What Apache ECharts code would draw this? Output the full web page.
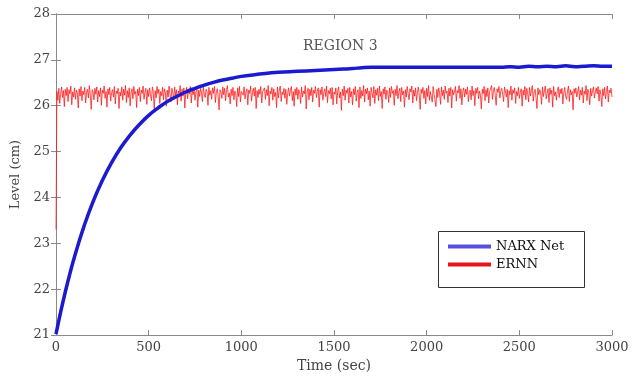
<!DOCTYPE html>
<html><head><meta charset="utf-8">
<script src="https://cdn.jsdelivr.net/npm/echarts@6/dist/echarts.min.js"></script>
<style>html,body{margin:0;padding:0;background:#fff}#c{width:632px;height:378px}</style>
</head><body><div id="c"></div>
<script>
// NARX Net response (time in sec, level in cm)
var narxTimes = [0,25,50,75,100,150,200,250,300,350,400,450,500,550,600,650,700,750,800,850,900,950,1000,1100,1200,1300,1400,1500,1550,1600,1650,1700,1800,1900,2000,2100,2200,2300,2400,2450,2500,2550,2600,2650,2700,2750,2800,2850,2900,2950,3000];
var narxLevels = [21.02,21.50,21.94,22.34,22.71,23.36,23.91,24.37,24.76,25.09,25.36,25.59,25.79,25.95,26.09,26.20,26.30,26.38,26.45,26.51,26.56,26.60,26.64,26.69,26.73,26.75,26.77,26.79,26.80,26.81,26.83,26.84,26.84,26.84,26.84,26.84,26.84,26.84,26.84,26.85,26.84,26.86,26.85,26.86,26.85,26.87,26.85,26.86,26.87,26.86,26.86];
// ERNN response, sampled every ernnStep seconds starting at t=0
var ernnStep = 5;
var ernnLevels = [23.30,
26.31,26.12,26.38,26.05,26.27,26.41,26.18,26.33,25.98,26.36,
26.22,26.40,26.09,26.35,26.26,26.43,26.02,26.30,26.19,26.39,
26.14,26.34,26.28,25.95,26.37,26.21,26.42,26.11,26.32,26.24,
26.40,26.06,26.29,26.36,26.17,26.44,26.23,25.92,26.35,26.30,
26.13,26.38,26.25,26.41,26.08,26.33,26.20,26.39,26.01,26.34,
26.27,26.43,26.16,26.31,25.97,26.37,26.24,26.40,26.10,26.29,
26.35,26.19,26.42,26.04,26.32,26.26,26.38,25.94,26.30,26.21,
26.41,26.12,26.36,26.23,26.44,26.07,26.33,26.18,26.39,26.00,
26.28,26.37,26.15,26.42,26.25,26.31,25.96,26.36,26.22,26.40,
26.09,26.34,26.27,26.43,26.14,26.30,26.38,26.03,26.35,26.20,
26.39,26.24,26.11,26.41,26.29,25.93,26.33,26.17,26.42,26.26,
26.36,26.05,26.31,26.22,26.40,26.13,26.37,26.28,25.99,26.34,
26.19,26.43,26.25,26.08,26.38,26.30,26.16,26.41,26.23,26.35,
26.02,26.32,26.27,26.44,26.10,26.36,26.21,26.39,25.95,26.29,
26.40,26.15,26.33,26.26,26.42,26.06,26.35,26.24,26.37,26.12,
26.30,26.41,25.97,26.34,26.20,26.38,26.28,26.09,26.43,26.25,
26.18,26.36,26.31,26.01,26.40,26.23,26.33,26.14,26.39,26.27,
26.42,26.07,26.29,26.37,26.21,25.91,26.35,26.30,26.16,26.41,
26.24,26.38,26.11,26.33,26.44,26.19,26.28,26.04,26.36,26.22,
26.40,26.13,26.32,26.26,25.98,26.39,26.20,26.42,26.08,26.31,
26.35,26.23,26.41,26.15,26.30,26.37,26.02,26.34,26.27,26.43,
26.10,26.29,26.38,26.21,26.40,25.94,26.33,26.18,26.36,26.25,
26.42,26.06,26.31,26.28,26.39,26.14,26.35,26.22,26.44,26.00,
26.32,26.26,26.40,26.12,26.37,26.20,26.29,25.96,26.41,26.17,
26.34,26.43,26.09,26.30,26.24,26.38,26.16,26.36,26.03,26.27,
26.39,26.21,26.33,26.42,26.11,26.31,25.99,26.37,26.23,26.40,
26.14,26.35,26.28,26.05,26.41,26.19,26.32,26.26,26.44,25.93,
26.30,26.38,26.13,26.36,26.22,26.40,26.08,26.34,26.27,26.42,
26.18,26.31,26.39,25.97,26.35,26.24,26.41,26.12,26.29,26.37,
26.20,26.43,26.07,26.33,26.26,26.38,26.15,26.40,26.02,26.30,
26.25,26.39,26.04,26.33,26.41,26.17,26.30,25.90,26.36,26.22,
26.43,26.12,26.34,26.27,26.38,26.06,26.40,26.19,26.31,26.02,
26.37,26.24,26.42,26.10,26.29,26.35,25.96,26.41,26.16,26.33,
26.21,26.44,26.08,26.36,26.26,26.39,26.13,26.32,25.99,26.40,
26.28,26.17,26.42,26.05,26.35,26.23,26.38,26.11,26.43,26.20,
26.31,25.94,26.37,26.25,26.41,26.14,26.34,26.29,26.07,26.39,
26.18,26.42,26.27,26.33,26.01,26.36,26.22,26.44,26.15,26.30,
26.38,26.09,26.40,26.24,26.32,25.97,26.35,26.19,26.42,26.26,
26.13,26.37,26.30,26.43,26.06,26.34,26.21,26.39,26.11,26.28,
26.41,26.23,25.92,26.36,26.27,26.40,26.16,26.33,26.04,26.38,
26.20,26.44,26.12,26.31,26.35,26.08,26.42,26.25,26.29,25.98,
26.36,26.18,26.39,26.26,26.03,26.41,26.22,26.34,26.14,26.43,
26.27,26.32,26.07,26.38,26.21,26.40,25.95,26.35,26.24,26.30,
26.42,26.10,26.33,26.28,26.44,26.16,26.37,26.02,26.31,26.39,
26.19,26.36,26.25,26.41,26.09,26.29,26.34,26.13,26.43,26.22,
26.33,26.00,26.38,26.27,26.40,26.15,26.32,26.23,25.93,26.36,
26.26,26.42,26.11,26.35,26.20,26.39,26.06,26.31,26.28,26.44,
26.14,26.34,26.40,26.22,26.01,26.37,26.29,26.42,26.17,26.32,
26.38,26.25,26.09,26.41,26.30,26.19,26.36,25.96,26.33,26.24,
26.43,26.12,26.35,26.27,26.39,26.05,26.31,26.22,26.40,26.16,
26.29,26.37,25.99,26.34,26.23,26.42,26.13,26.38,26.26,26.08,
26.40,26.21,26.33,26.44,26.10,26.30,26.36,26.18,25.94,26.39,
26.24,26.35,26.28,26.03,26.41,26.20,26.32,26.43,26.15,26.27,
26.37,26.07,26.39,26.25,26.34,25.97,26.42,26.22,26.30,26.12,
26.33,26.41,26.18,26.36,26.26,26.38,26.04,26.29,26.40,26.21,
26.14,26.32,26.43,26.09,26.35,26.24,26.31,25.91,26.37,26.27,
26.39,26.19,26.30,26.42,26.13,26.34,26.23,26.40,26.06,26.32,
26.25,26.44,26.11,26.36,26.28,26.02,26.38,26.21,26.33,26.41,
26.17,26.30,26.39,26.26,26.42,26.10,26.35,26.24,25.98,26.37,
26.22,26.40,26.15,26.31,26.43,26.08,26.34,26.28,26.38,26.19];
var seriesNames = ['NARX Net','ERNN'];
var titleText = 'REGION 3';
var xName = 'Time (sec)';
var yName = 'Level (cm)';

var narxData = narxTimes.map(function(t,i){return [t, narxLevels[i]];});
var ernnData = ernnLevels.map(function(v,i){return [i*ernnStep, v];});

var serif = '"DejaVu Serif","Liberation Serif",serif';
var axisColor = '#8a8a8a';
var labelStyle = {fontFamily: serif, fontSize: 13, color: '#444'};

var chart = echarts.init(document.getElementById('c'), null, {renderer:'canvas'});
chart.setOption({
  animation: false,
  backgroundColor: '#fff',
  title: {text: titleText, left: 298, top: 34, textStyle: {fontFamily: serif, fontSize: 14, fontWeight: 'normal', color: '#555'}},
  grid: {left: 56, right: 20, top: 14, bottom: 42, show: false},
  legend: {
    orient: 'vertical', left: 443, top: 235, itemWidth: 43, itemHeight: 4, itemGap: 5,
    icon: 'rect',
    textStyle: {fontFamily: serif, fontSize: 13, color: '#111', padding: [-3,0,0,0]},
    data: [
      {name: seriesNames[0], itemStyle: {color: '#5a50e0'}},
      {name: seriesNames[1], itemStyle: {color: '#e8141c'}}
    ]
  },
  graphic: [{type: 'rect', left: 436, top: 229, shape: {width: 146, height: 56}, style: {fill: 'none', stroke: '#333', lineWidth: 1}, z: 10}],
  xAxis: [{
    type: 'value', min: 0, max: 3000, interval: 500,
    name: xName, nameLocation: 'middle', nameGap: 21, nameTextStyle: {fontFamily: serif, fontSize: 14, color: '#444'},
    axisLine: {show: true, lineStyle: {color: axisColor}},
    axisTick: {show: true, inside: true, length: 5, lineStyle: {color: axisColor}},
    axisLabel: Object.assign({margin: 6, formatter: function(v){return String(v);}}, labelStyle),
    splitLine: {show: false}
  },{
    type: 'value', min: 0, max: 3000, interval: 500, position: 'top',
    axisLine: {show: true, lineStyle: {color: axisColor}},
    axisTick: {show: true, inside: true, length: 5, lineStyle: {color: axisColor}},
    axisLabel: {show: false}, splitLine: {show: false}
  }],
  yAxis: [{
    type: 'value', min: 21, max: 28, interval: 1,
    name: yName, nameLocation: 'middle', nameGap: 29, nameRotate: 90, nameTextStyle: {fontFamily: serif, fontSize: 13, color: '#444'},
    axisLine: {show: true, lineStyle: {color: axisColor}},
    axisTick: {show: true, inside: true, length: 5, lineStyle: {color: axisColor}},
    axisLabel: Object.assign({margin: 6}, labelStyle),
    splitLine: {show: false}
  },{
    type: 'value', min: 21, max: 28, interval: 1, position: 'right',
    axisLine: {show: true, lineStyle: {color: axisColor}},
    axisTick: {show: true, inside: true, length: 5, lineStyle: {color: axisColor}},
    axisLabel: {show: false}, splitLine: {show: false}
  }],
  series: [
    {name: seriesNames[1], type: 'line', data: ernnData, showSymbol: false, smooth: false, z: 2, sampling: null,
     lineStyle: {color: '#ff1010', width: 1, opacity: 0.75}, itemStyle: {color: '#e8141c'}},
    {name: seriesNames[0], type: 'line', data: narxData, showSymbol: false, smooth: true, z: 3,
     lineStyle: {color: '#1a1ad0', width: 3.5}, itemStyle: {color: '#5a50e0'}}
  ]
});
</script></body></html>
